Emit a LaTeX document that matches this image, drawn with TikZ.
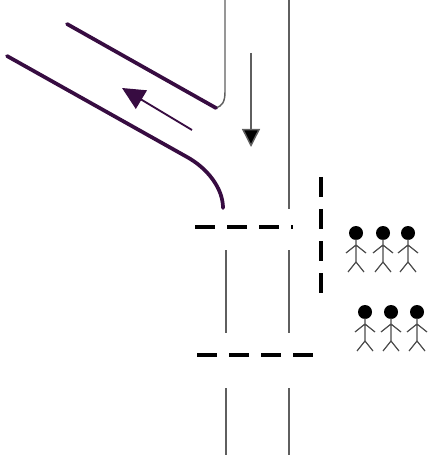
\documentclass[tikz,border=0pt]{standalone}
\usetikzlibrary{arrows.meta}
\definecolor{roadpurple}{RGB}{55,12,65}
\definecolor{roadgray}{RGB}{95,95,95}
\tikzset{
  edge/.style={line width=1.1pt, draw=roadgray},
  kerb/.style={line width=2.8pt, draw=roadpurple, line cap=round},
  stopline/.style={line width=2.4pt, draw=black, dash pattern=on 15pt off 9pt},
  person/.pic={
    \fill[black] (0,0) circle (7);
    \draw[line width=0.9pt, draw=black!70] (0,6)--(0,29) (-10,20)--(0,12)--(10,20) (-8,39)--(0,29)--(8,39);
  }
}
\begin{document}
\begin{tikzpicture}[x=0.75pt,y=-0.75pt]
\useasboundingbox (0,0) rectangle (429,459);
% main road edges
\draw[edge] (225,0) -- (225,92) .. controls (225,102) and (222,106) .. (216,108);
\draw[edge] (289,0) -- (289,209);
\draw[edge] (226,250) -- (226,333);
\draw[edge] (289,250) -- (289,333);
\draw[edge] (226,388) -- (226,455);
\draw[edge] (289,388) -- (289,455);
% side road kerbs
\draw[kerb] (67,24) -- (216,108);
\draw[kerb] (7,56) -- (187,157) .. controls (207,168) and (223,188) .. (223,208);
% arrows
\coordinate (pa) at (192,130);
\coordinate (pb) at (122,88);
\draw[line width=1.4pt, draw=roadpurple, -{Triangle[length=17pt,width=16pt]}] (pa) -- (pb);
\coordinate (da) at (251,53);
\coordinate (db) at (251,147);
\draw[line width=1.1pt, draw=roadgray, -{Triangle[length=13.5pt,width=13.5pt,fill=black]}] (da) -- (db);
% stop lines
\draw[stopline] (195,227) -- (293,227);
\draw[stopline] (321,177) -- (321,293);
\draw[stopline] (197,355) -- (313,355);
% pedestrians
\pic at (356,233) {person};
\pic at (383,233) {person};
\pic at (408,233) {person};
\pic at (365,312) {person};
\pic at (391,312) {person};
\pic at (417,312) {person};
\end{tikzpicture}
\end{document}
